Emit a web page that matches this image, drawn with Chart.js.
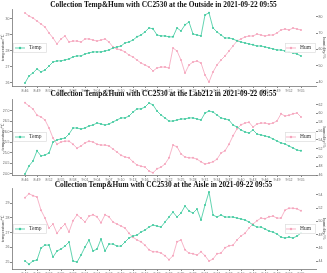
<!DOCTYPE html>
<html>
<head>
<meta charset="utf-8">
<script src="https://cdn.jsdelivr.net/npm/chart.js@4.4.0/dist/chart.umd.min.js"></script>
<style>
  body { margin: 0; background: #fff; }
  #wrap { position: relative; width: 327px; height: 273px; overflow: hidden; }
  #wrap canvas { position: absolute; left: 0; }
</style>
</head>
<body>
<div id="wrap">
  <canvas id="c1" width="327" height="92" style="top:0px"></canvas>
  <canvas id="c2" width="327" height="92" style="top:90px"></canvas>
  <canvas id="c3" width="327" height="92" style="top:181px"></canvas>
</div>
<script>
// sample times (one per minute)
const times = [
  "8:46", "8:47", "8:48", "8:49", "8:50", "8:51", "8:52", "8:53", "8:54", "8:55",
  "8:56", "8:57", "8:58", "8:59", "9:00", "9:01", "9:02", "9:03", "9:04", "9:05",
  "9:06", "9:07", "9:08", "9:09", "9:10", "9:11", "9:12", "9:13", "9:14", "9:15",
  "9:16", "9:17", "9:18", "9:19", "9:20", "9:21", "9:22", "9:23", "9:24", "9:25",
  "9:26", "9:27", "9:28", "9:29", "9:30", "9:31", "9:32", "9:33", "9:34", "9:35",
  "9:36", "9:37", "9:38", "9:39", "9:40", "9:41", "9:42", "9:43", "9:44", "9:45",
  "9:46", "9:47", "9:48", "9:49", "9:50", "9:51", "9:52", "9:53", "9:54", "9:55"
];

const places = ["Outside", "Lab212", "Aisle"];

// Outside
const temp1 = [
  26.0, 26.44, 26.63, 26.88, 26.69, 26.81, 27.06, 27.31, 27.38, 27.38,
  27.44, 27.5, 27.63, 27.69, 27.69, 27.81, 27.88, 27.94, 27.94, 27.94,
  28.0, 28.06, 28.19, 28.25, 28.31, 28.5, 28.56, 28.69, 28.88, 29.0,
  29.19, 29.44, 29.38, 29.0, 28.94, 28.94, 28.88, 28.88, 29.44, 29.25,
  29.63, 29.81, 29.06, 29.0, 28.94, 30.25, 30.38, 29.44, 29.19, 29.0,
  28.81, 28.81, 28.75, 28.63, 28.56, 28.5, 28.44, 28.38, 28.31, 28.31,
  28.25, 28.19, 28.13, 28.06, 28.06, 28.0, 27.94, 27.88, 27.81, 27.69
];
const hum1 = [
  82.5, 80.6, 79.4, 77.5, 75.7, 73.8, 70.2, 67.1, 63.4, 66.5,
  68.3, 64.6, 65.2, 65.2, 64.6, 66.5, 66.5, 65.8, 65.2, 65.8,
  66.5, 64.6, 61.5, 60.3, 59.7, 58.5, 56.6, 55.4, 53.5, 51.7,
  50.5, 49.2, 46.8, 48.6, 49.2, 49.2, 48.6, 60.9, 59.1, 53.5,
  45.5, 50.5, 52.3, 52.9, 51.7, 44.3, 40.0, 46.2, 50.5, 53.5,
  56.0, 59.1, 62.2, 65.2, 66.5, 67.7, 68.3, 68.3, 69.5, 68.9,
  68.3, 68.9, 68.9, 70.2, 72.0, 72.6, 72.0, 73.2, 72.6, 72.0
];

// Lab212
const temp2 = [
  24.0, 24.38, 24.62, 25.1, 24.86, 24.9, 25.0, 25.52, 25.62, 25.67,
  25.71, 25.9, 26.19, 26.19, 26.14, 26.19, 26.29, 26.33, 26.43, 26.38,
  26.33, 26.38, 26.48, 26.57, 26.67, 26.67, 26.76, 26.95, 27.1, 27.1,
  27.19, 27.38, 27.29, 27.0, 26.81, 26.67, 26.52, 26.52, 26.57, 26.62,
  26.62, 26.67, 26.67, 26.62, 26.57, 26.9, 27.0, 26.95, 26.81, 26.67,
  26.62, 26.57, 26.33, 26.24, 26.1, 26.0, 25.95, 26.1, 25.9, 25.86,
  25.81, 25.76, 25.67, 25.57, 25.48, 25.43, 25.33, 25.24, 25.14, 25.1
];
const hum2 = [
  62.4, 61.7, 61.0, 59.6, 59.2, 58.5, 56.7, 54.4, 53.0, 53.5,
  53.7, 53.7, 53.0, 52.1, 52.6, 53.3, 53.7, 53.5, 53.0, 52.8,
  52.8, 52.6, 51.9, 51.2, 50.5, 50.1, 49.9, 49.0, 48.3, 48.0,
  47.8, 46.9, 46.5, 47.4, 47.8, 48.5, 49.9, 52.8, 52.4, 50.8,
  50.1, 49.9, 49.9, 49.6, 49.0, 48.5, 48.7, 49.0, 49.6, 51.0,
  51.5, 53.0, 54.9, 56.5, 57.4, 57.8, 58.0, 56.9, 57.6, 57.8,
  57.8, 57.6, 57.8, 58.3, 59.9, 59.4, 59.6, 59.9, 60.1, 59.2
];

// Aisle
const temp3 = [
  25.07, 24.86, 25.07, 25.14, 25.95, 26.15, 26.15, 25.34, 25.75, 25.88,
  26.08, 26.36, 25.07, 25.0, 25.47, 26.02, 26.49, 25.75, 25.88, 26.56,
  25.75, 26.22, 26.22, 26.08, 26.08, 26.36, 26.63, 26.76, 26.83, 27.03,
  27.17, 27.37, 27.51, 27.44, 27.37, 27.71, 28.05, 28.39, 28.05, 28.32,
  28.8, 28.46, 28.32, 28.59, 27.85, 28.86, 29.75, 28.19, 28.05, 28.19,
  28.05, 28.05, 28.05, 27.98, 27.92, 27.85, 27.71, 27.51, 27.37, 27.37,
  27.24, 27.1, 27.03, 26.9, 26.69, 26.63, 26.69, 26.63, 26.76, 26.97
];
const hum3 = [
  53.6, 54.2, 53.9, 53.7, 51.7, 50.5, 49.0, 49.6, 48.2, 49.0,
  49.6, 48.4, 50.1, 51.0, 50.5, 49.9, 50.8, 51.0, 50.7, 49.8,
  51.0, 50.7, 49.9, 49.6, 49.3, 49.0, 48.2, 47.6, 47.2, 46.9,
  46.4, 45.7, 45.4, 45.4, 45.2, 44.8, 44.2, 44.8, 46.9, 47.2,
  45.7, 45.2, 45.1, 44.9, 45.4, 44.8, 44.0, 44.3, 45.1, 45.2,
  46.0, 46.3, 46.4, 47.2, 47.8, 48.2, 49.0, 49.6, 50.1, 50.5,
  50.4, 50.7, 50.8, 50.5, 50.5, 51.7, 52.0, 52.0, 51.9, 51.6
];

// tick labels
const tempTicks1 = [26, 27, 28, 29, 30];
const humTicks1 = [40, 50, 60, 70, 80];
const tempTicks2 = [24, 24.5, 25, 25.5, 26, 26.5, 27];
const humTicks2 = [46, 48, 50, 52, 54, 56, 58, 60, 62];
const tempTicks3 = [25, 26, 27, 28, 29];
const humTicks3 = [44, 46, 48, 50, 52, 54];
const xTicks = [0, 3, 6, 9, 12, 15, 18, 21, 24, 27, 30, 33, 36, 39, 42, 45, 48, 51, 54, 57, 60, 63, 66, 69];

const GREEN = "#3cc99d";
const PINK = "#f5a3bb";
const SERIF = "'Liberation Serif', 'Times New Roman', serif";

// legend boxes drawn inside the plot, Temp on the left, Hum on the right
const boxLegend = {
  id: "boxLegend",
  afterDatasetsDraw(chart) {
    const { ctx, chartArea: a } = chart;
    const cy = (a.top + a.bottom) / 2;
    ctx.save();
    ctx.font = "5.5px " + SERIF;
    ctx.textBaseline = "middle";
    chart.data.datasets.forEach((ds, i) => {
      const w = i === 0 ? 34 : 31;
      const x = i === 0 ? a.left + 1 : a.right - w;
      const m = i === 0 ? 2 : 1;
      ctx.fillStyle = "rgba(255,255,255,0.85)";
      ctx.fillRect(x, cy - 5, w, 10);
      ctx.strokeStyle = "#dddddd";
      ctx.lineWidth = 0.7;
      ctx.strokeRect(x + 0.5, cy - 4.5, w - 1, 9);
      ctx.strokeStyle = ds.borderColor;
      ctx.lineWidth = 0.8;
      ctx.beginPath();
      ctx.moveTo(x + m, cy);
      ctx.lineTo(x + m + 10, cy);
      ctx.stroke();
      ctx.fillStyle = ds.borderColor;
      ctx.beginPath();
      ctx.arc(x + m + 5, cy, 1.2, 0, Math.PI * 2);
      ctx.fill();
      ctx.fillStyle = "#333";
      ctx.fillText(ds.label, x + m + 14, cy);
    });
    ctx.restore();
  }
};

function fixTicks(list) {
  return function (scale) {
    scale.ticks = list.map((v) => ({ value: v }));
  };
}

function makeChart(id, place, temp, hum, tTicks, hTicks, lay) {
  new Chart(document.getElementById(id), {
    type: "line",
    data: {
      datasets: [
        {
          label: "Temp",
          data: temp.map((v, i) => ({ x: i, y: v })),
          yAxisID: "yT",
          borderColor: GREEN,
          backgroundColor: GREEN,
          borderWidth: 0.8,
          pointRadius: 1,
          pointBorderWidth: 0,
          tension: 0,
        },
        {
          label: "Hum",
          data: hum.map((v, i) => ({ x: i, y: v })),
          yAxisID: "yH",
          borderColor: PINK,
          backgroundColor: PINK,
          borderWidth: 0.8,
          pointRadius: 1,
          pointBorderWidth: 0,
          tension: 0,
        },
      ],
    },
    options: {
      responsive: false,
      animation: false,
      devicePixelRatio: 1,
      layout: { padding: 0 },
      plugins: {
        legend: { display: false },
        tooltip: { enabled: false },
        title: {
          display: true,
          text: "Collection Temp&Hum with CC2530 at the " + place + " in 2021-09-22 09:55",
          color: "#111",
          font: { family: SERIF, size: 7.4, weight: "bold", lineHeight: lay.titleLH },
          padding: 0,
        },
      },
      scales: {
        x: {
          type: "linear",
          min: -3.25,
          max: 72.75,
          afterBuildTicks: fixTicks(xTicks),
          afterFit(s) { s.height = lay.xH; },
          grid: { drawOnChartArea: false, tickLength: 2, color: "#888" },
          border: { color: "#777", width: 0.8 },
          ticks: {
            font: { size: 3.5 },
            color: "#666",
            padding: 0.5,
            maxRotation: 0,
            autoSkip: false,
            callback: (v) => times[v],
          },
        },
        yT: {
          position: "left",
          min: lay.tMin,
          max: lay.tMax,
          afterBuildTicks: fixTicks(tTicks),
          afterFit(s) { s.width = 12; },
          grid: { drawOnChartArea: false, tickLength: 2, color: "#888" },
          border: { color: "#777", width: 0.8 },
          ticks: { font: { size: 3.5 }, color: "#666", padding: 0.5 },
          title: {
            display: true,
            text: "temperature/℃",
            font: { family: SERIF, size: 4.5 },
            color: "#555",
            padding: 0,
          },
        },
        yH: {
          position: "right",
          min: lay.hMin,
          max: lay.hMax,
          afterBuildTicks: fixTicks(hTicks),
          afterFit(s) { s.width = 11; },
          grid: { drawOnChartArea: false, tickLength: 2, color: "#888" },
          border: { display: false },
          ticks: { font: { size: 3.5 }, color: "#666", padding: 0.5 },
          title: {
            display: true,
            text: "humidity/%",
            font: { family: SERIF, size: 4.5 },
            color: "#555",
            padding: 0,
          },
        },
      },
    },
    plugins: [boxLegend],
  });
}

makeChart("c1", places[0], temp1, hum1, tempTicks1, humTicks1,
  { titleLH: 1.35, xH: 6, tMin: 25.81, tMax: 30.56, hMin: 37.54, hMax: 84.31 });
makeChart("c2", places[1], temp2, hum2, tempTicks2, humTicks2,
  { titleLH: 1.22, xH: 7, tMin: 23.95, tMax: 27.57, hMin: 46, hMax: 63.27 });
makeChart("c3", places[2], temp3, hum3, tempTicks3, humTicks3,
  { titleLH: 1.08, xH: 4, tMin: 24.53, tMax: 29.95, hMin: 42.79, hMax: 54.91 });
</script>
</body>
</html>
